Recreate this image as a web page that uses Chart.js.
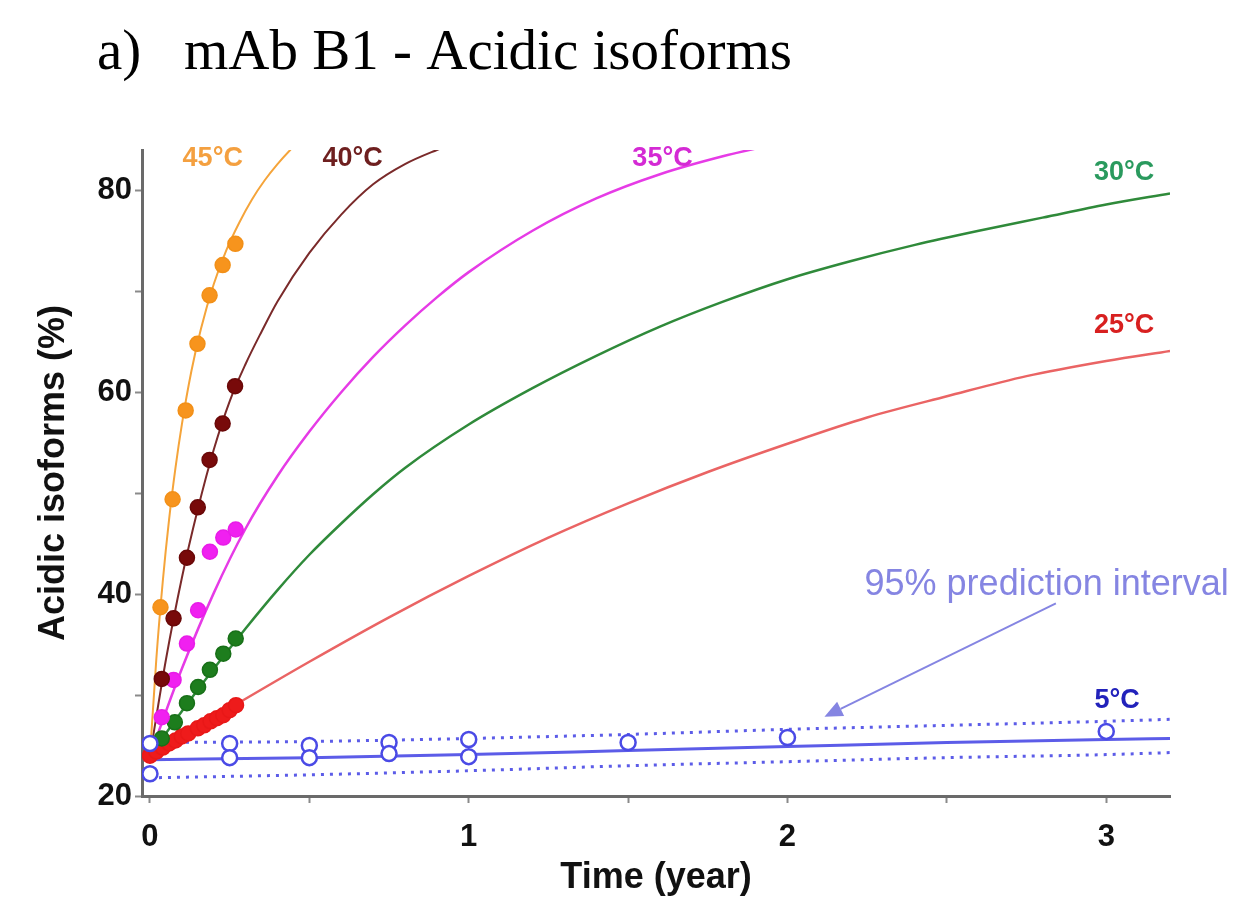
<!DOCTYPE html>
<html>
<head>
<meta charset="utf-8">
<script src="https://cdn.jsdelivr.net/npm/chart.js@4.4.1/dist/chart.umd.min.js"></script>
<style>
html,body{margin:0;padding:0;background:#ffffff;}
#wrap{width:1258px;height:905px;position:relative;}
</style>
</head>
<body>
<div id="wrap"><canvas id="c" width="1258" height="905"></canvas></div>
<script>
// ---------- DATA ----------
const chartTitle = 'a)   mAb B1 - Acidic isoforms';
const xAxisTitle = 'Time (year)';
const yAxisTitle = 'Acidic isoforms (%)';
const xTickValues = [0, 0.5, 1, 1.5, 2, 2.5, 3];
const xTickLabels = ['0', '', '1', '', '2', '', '3'];
const yTickValues = [20, 30, 40, 50, 60, 70, 80];
const yTickLabels = ['20', '', '40', '', '60', '', '80'];

// measured points
const t45 = [0.033, 0.071, 0.112, 0.149, 0.187, 0.228, 0.268];
const y45 = [38.7, 49.4, 58.2, 64.8, 69.6, 72.6, 74.7];
const t40 = [0.037, 0.074, 0.116, 0.150, 0.187, 0.228, 0.267];
const y40 = [31.6, 37.6, 43.6, 48.6, 53.3, 56.9, 60.6];
const t35 = [0.037, 0.074, 0.116, 0.151, 0.188, 0.230, 0.269];
const y35 = [27.8, 31.5, 35.1, 38.4, 44.2, 45.6, 46.4];
const t30 = [0.037, 0.078, 0.116, 0.151, 0.188, 0.230, 0.269];
const y30 = [25.7, 27.3, 29.2, 30.8, 32.5, 34.1, 35.6];
const t25 = [0, 0.02, 0.04, 0.06, 0.08, 0.10, 0.12, 0.15, 0.17, 0.19, 0.21, 0.23, 0.25, 0.27];
const y25 = [24.0, 24.4, 24.8, 25.2, 25.5, 25.9, 26.2, 26.7, 27.0, 27.4, 27.7, 28.0, 28.5, 29.0];
const t5 = [0, 0, 0.25, 0.25, 0.5, 0.5, 0.75, 0.75, 1, 1, 1.5, 2, 3];
const y5 = [22.2, 25.2, 25.2, 23.8, 25.0, 23.8, 25.3, 24.2, 25.6, 23.9, 25.3, 25.8, 26.4];

// fitted model curves
const fitT45 = [0, 0.02, 0.04, 0.06, 0.08, 0.10, 0.13, 0.16, 0.20, 0.24, 0.28, 0.32, 0.36, 0.40, 0.44, 0.47];
const fitY45 = [24, 33.6, 41.2, 47.4, 52.5, 56.8, 62.1, 66.3, 70.7, 74.1, 76.8, 79.1, 81.0, 82.6, 84.0, 84.9];
const fitT40 = [0, 0.05, 0.10, 0.15, 0.20, 0.25, 0.30, 0.35, 0.40, 0.50, 0.60, 0.70, 0.80, 0.90, 0.95];
const fitY40 = [24, 33.5, 41.6, 48.4, 54.3, 59.1, 62.8, 66.0, 69.0, 73.8, 77.6, 80.6, 82.6, 84.0, 84.6];
const fitT35 = [0, 0.1, 0.2, 0.3, 0.4, 0.5, 0.6, 0.7, 0.8, 0.9, 1.0, 1.2, 1.4, 1.6, 1.8, 1.95];
const fitY35 = [24, 32.6, 40.1, 46.5, 51.7, 56.1, 60.0, 63.5, 66.6, 69.4, 71.9, 76.0, 79.2, 81.6, 83.4, 84.5];
const fitT30 = [0, 0.1, 0.2, 0.3, 0.4, 0.5, 0.6, 0.7, 0.8, 1.0, 1.2, 1.4, 1.6, 1.8, 2.0, 2.2, 2.4, 2.6, 2.8, 3.0, 3.2];
const fitY30 = [24, 28.4, 32.6, 36.6, 40.4, 43.9, 47.0, 49.9, 52.5, 56.8, 60.4, 63.6, 66.5, 69.0, 71.2, 73.0, 74.6, 76.0, 77.3, 78.6, 79.7];
const fitT25 = [0, 0.25, 0.5, 0.75, 1.0, 1.25, 1.5, 1.75, 2.0, 2.25, 2.5, 2.75, 3.0, 3.2];
const fitY25 = [24, 28.7, 33.3, 37.7, 41.8, 45.6, 49.0, 52.1, 54.9, 57.5, 59.6, 61.6, 63.1, 64.1];
const fitT5 = [0, 0.5, 1, 1.5, 2, 2.5, 3, 3.2];
const fitY5 = [23.6, 23.8, 24.1, 24.5, 24.9, 25.3, 25.6, 25.7];
const piUpper5 = [25.3, 25.4, 25.7, 26.1, 26.6, 27.0, 27.4, 27.6];
const piLower5 = [21.8, 22.1, 22.5, 23.0, 23.4, 23.8, 24.1, 24.3];

// series labels
const seriesLabelText = ['45°C', '40°C', '35°C', '30°C', '25°C', '5°C'];
const annotationText = '95% prediction interval';

// ---------- CHART ----------
const labelStyle = [
  {x: 0.197, y: 83.2, color: '#f4a040'},
  {x: 0.636, y: 83.2, color: '#6e1f1f'},
  {x: 1.608, y: 83.2, color: '#d42ad4'},
  {x: 3.056, y: 81.8, color: '#2a9a5e'},
  {x: 3.056, y: 66.6, color: '#d82020'},
  {x: 3.034, y: 29.5, color: '#2222bb'}
];
const annotationStyle = {textX: 2.813, textY: 40.9, fromX: 2.842, fromY: 39.08, toX: 2.116, toY: 27.85, color: '#8585e2'};

function pts(xs, ys) { return xs.map((x, i) => ({x: x, y: ys[i]})); }
function fitDs(label, xs, ys, color, width, dash) {
  return {label: label, data: pts(xs, ys), showLine: true, borderColor: color, borderWidth: width,
    borderDash: dash || [], pointRadius: 0, pointHoverRadius: 0, cubicInterpolationMode: 'monotone', order: 2};
}
function ptDs(label, xs, ys, fill, stroke, r) {
  return {label: label, data: pts(xs, ys), showLine: false, pointRadius: r, pointHoverRadius: r,
    pointBackgroundColor: fill, pointBorderColor: stroke, pointBorderWidth: 1.5, order: 1};
}

const datasets = [
  fitDs('45°C fit', fitT45, fitY45, '#f5a43a', 2),
  fitDs('40°C fit', fitT40, fitY40, '#7a2a2a', 2),
  fitDs('35°C fit', fitT35, fitY35, '#e63be6', 2.5),
  fitDs('30°C fit', fitT30, fitY30, '#2f8a3a', 2.5),
  fitDs('25°C fit', fitT25, fitY25, '#ea6464', 2.5),
  fitDs('5°C fit', fitT5, fitY5, '#5c5ce8', 3),
  fitDs('5°C PI upper', fitT5, piUpper5, '#5c5ce8', 3, [3, 6]),
  fitDs('5°C PI lower', fitT5, piLower5, '#5c5ce8', 3, [3, 6]),
  ptDs('45°C', t45, y45, '#f7941d', '#f29018', 7.5),
  ptDs('40°C', t40, y40, '#780a0a', '#6a0808', 7.5),
  ptDs('35°C', t35, y35, '#f020f0', '#e81ce8', 7.5),
  ptDs('30°C', t30, y30, '#1d7d1d', '#187018', 7.5),
  ptDs('25°C', t25, y25, '#ee1b1b', '#e81818', 7.5),
  Object.assign(ptDs('5°C', t5, y5, '#ffffff', '#4a4ae6', 7.5), {pointBorderWidth: 2.5, order: 0})
];

const annotPlugin = {
  id: 'annot',
  afterDraw(chart) {
    const {ctx} = chart;
    const xs = chart.scales.x, ys = chart.scales.y;
    ctx.save();
    // title
    ctx.fillStyle = '#000';
    ctx.font = '57px "Liberation Serif", "Times New Roman", serif';
    ctx.textAlign = 'left';
    ctx.textBaseline = 'alphabetic';
    ctx.fillText(chartTitle, 97, 69);
    // series labels
    ctx.font = 'bold 27px "Liberation Sans", Arial, sans-serif';
    ctx.textAlign = 'center';
    ctx.textBaseline = 'middle';
    seriesLabelText.forEach((t, i) => {
      const s = labelStyle[i];
      ctx.fillStyle = s.color;
      ctx.fillText(t, xs.getPixelForValue(s.x), ys.getPixelForValue(s.y));
    });
    // annotation
    const a = annotationStyle;
    ctx.fillStyle = a.color;
    ctx.font = '36px "Liberation Sans", Arial, sans-serif';
    ctx.fillText(annotationText, xs.getPixelForValue(a.textX), ys.getPixelForValue(a.textY));
    const x1 = xs.getPixelForValue(a.fromX), y1 = ys.getPixelForValue(a.fromY);
    const x2 = xs.getPixelForValue(a.toX), y2 = ys.getPixelForValue(a.toY);
    const ang = Math.atan2(y2 - y1, x2 - x1);
    const hl = 18, hw = 8;
    const bx = x2 - hl * Math.cos(ang), by = y2 - hl * Math.sin(ang);
    ctx.strokeStyle = a.color;
    ctx.lineWidth = 2;
    ctx.beginPath();
    ctx.moveTo(x1, y1);
    ctx.lineTo(bx, by);
    ctx.stroke();
    ctx.beginPath();
    ctx.moveTo(x2, y2);
    ctx.lineTo(bx + hw * Math.sin(ang), by - hw * Math.cos(ang));
    ctx.lineTo(bx - hw * Math.sin(ang), by + hw * Math.cos(ang));
    ctx.closePath();
    ctx.fill();
    ctx.restore();
  }
};

new Chart(document.getElementById('c'), {
  type: 'scatter',
  data: {datasets: datasets},
  plugins: [annotPlugin],
  options: {
    responsive: false,
    animation: false,
    events: [],
    layout: {padding: {top: 150, right: 88, bottom: 0, left: 0}},
    plugins: {legend: {display: false}, tooltip: {enabled: false}, title: {display: false}},
    scales: {
      x: {
        type: 'linear', min: -0.025, max: 3.2,
        afterBuildTicks: (s) => { s.ticks = xTickValues.map(v => ({value: v})); },
        afterFit: (s) => { s.height = 109; },
        border: {display: true, color: '#6a6a6a', width: 3},
        grid: {display: true, drawOnChartArea: false, drawTicks: true, tickLength: 7, tickColor: '#8a8a8a', tickWidth: 2},
        ticks: {
          padding: 16, color: '#111', maxRotation: 0, autoSkip: false,
          font: {family: '"Liberation Sans", Arial, sans-serif', size: 31, weight: 'bold'},
          callback: (v) => { const i = xTickValues.indexOf(v); return i >= 0 ? xTickLabels[i] : ''; }
        },
        title: {display: true, text: xAxisTitle, color: '#111', padding: {top: 0, bottom: 5},
          font: {family: '"Liberation Sans", Arial, sans-serif', size: 36, weight: 'bold'}}
      },
      y: {
        type: 'linear', min: 20, max: 84,
        afterBuildTicks: (s) => { s.ticks = yTickValues.map(v => ({value: v})); },
        afterFit: (s) => { s.width = 142; },
        border: {display: true, color: '#6a6a6a', width: 3},
        grid: {display: true, drawOnChartArea: false, drawTicks: true, tickLength: 7, tickColor: '#8a8a8a', tickWidth: 2},
        ticks: {
          padding: 3, color: '#111', autoSkip: false,
          font: {family: '"Liberation Sans", Arial, sans-serif', size: 31, weight: 'bold'},
          callback: (v) => { const i = yTickValues.indexOf(v); return i >= 0 ? yTickLabels[i] : ''; }
        },
        title: {display: true, text: yAxisTitle, color: '#111', padding: {top: 32, bottom: 0},
          font: {family: '"Liberation Sans", Arial, sans-serif', size: 36, weight: 'bold'}}
      }
    }
  }
});
</script>
</body>
</html>
